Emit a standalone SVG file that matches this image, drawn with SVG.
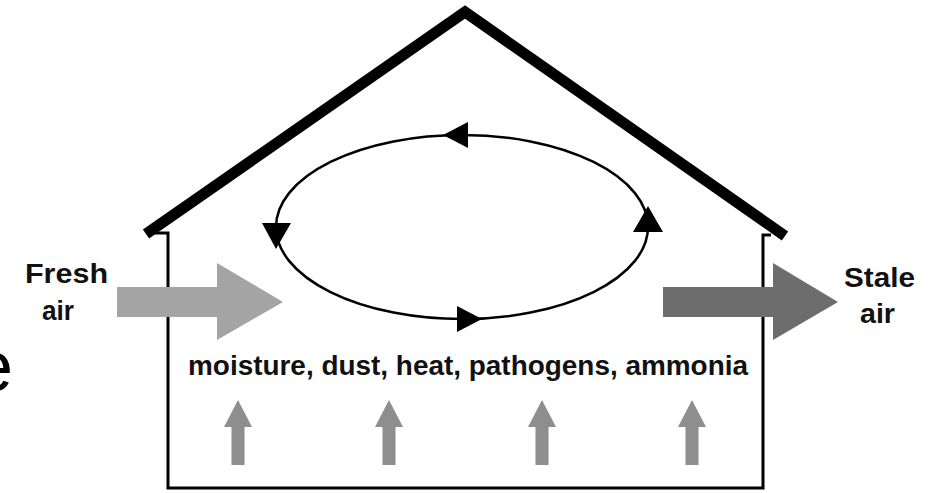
<svg xmlns="http://www.w3.org/2000/svg" width="935" height="493" viewBox="0 0 935 493">
  <style>
    .lbl { font-family: "Liberation Sans", Arial, sans-serif; font-weight: bold; fill: #111; }
    .wall { fill: none; stroke: #000; stroke-width: 3; }
    .tri { fill: #000; }
    .up { fill: #8e8e8e; }
  </style>
  <defs>
    <path id="upArrow" d="M0,0 L14,27 L6.5,27 L6.5,65 L-6.5,65 L-6.5,27 L-14,27 Z"/>
  </defs>
  <rect width="935" height="493" fill="#fff"/>

  <g id="house">
    <polyline points="146,234 465,12 785,236" fill="none" stroke="#000" stroke-width="11" stroke-linejoin="miter" stroke-linecap="butt"/>
    <polyline class="wall" points="155,233 168,233 168,488 763,488 763,235 771,235"/>
  </g>

  <g id="circulation">
    <ellipse cx="462" cy="227" rx="186" ry="92" fill="none" stroke="#000" stroke-width="2.5"/>
    <polygon class="tri" points="443,135 468,122 468,148"/>
    <polygon class="tri" points="482,319 457,306 457,332"/>
    <polygon class="tri" points="276,249 262,223 291,223"/>
    <polygon class="tri" points="648,206 633,232 663,232"/>
  </g>

  <g id="connectors">
    <g id="fresh-arrow">
      <polygon fill="#a4a4a4" points="117,287 217,287 217,263 283,302 217,340 217,317 117,317"/>
    </g>
    <g id="stale-arrow">
      <polygon fill="#6d6d6d" points="663,287 773,287 773,263 838,302 773,340 773,317 663,317"/>
    </g>
    <g id="rising-arrows">
      <use href="#upArrow" class="up" x="238" y="400"/>
      <use href="#upArrow" class="up" x="389" y="400"/>
      <use href="#upArrow" class="up" x="542" y="400"/>
      <use href="#upArrow" class="up" x="692" y="400"/>
    </g>
  </g>

  <g id="fresh-label">
    <text class="lbl" x="25" y="283" font-size="28" textLength="83" lengthAdjust="spacingAndGlyphs">Fresh</text>
    <text class="lbl" x="42" y="320" font-size="28" textLength="32" lengthAdjust="spacingAndGlyphs">air</text>
  </g>
  <g id="stale-label">
    <text class="lbl" x="844" y="287" font-size="28" textLength="71" lengthAdjust="spacingAndGlyphs">Stale</text>
    <text class="lbl" x="860" y="323" font-size="28" textLength="35" lengthAdjust="spacingAndGlyphs">air</text>
  </g>
  <g id="pollutants-label">
    <text class="lbl" x="188" y="375" font-size="27" textLength="560" lengthAdjust="spacingAndGlyphs">moisture, dust, heat, pathogens, ammonia</text>
  </g>
  <g id="fragment">
    <text x="-27" y="391" font-family="Liberation Sans, Arial, sans-serif" font-size="72" fill="#000">e</text>
  </g>
</svg>
